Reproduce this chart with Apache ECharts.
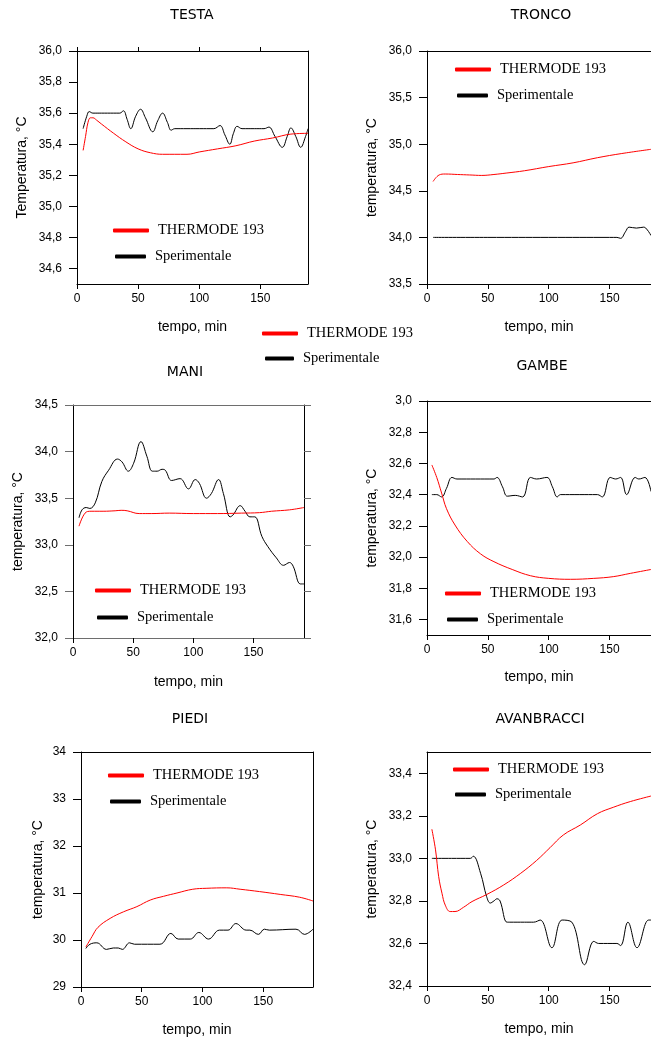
<!DOCTYPE html>
<html>
<head>
<meta charset="utf-8">
<script src="https://cdn.jsdelivr.net/npm/echarts@6/dist/echarts.min.js"></script>
<style>
html,body{margin:0;padding:0;background:#fff;}
#c{width:651px;height:1041px;}
</style>
</head>
<body>
<div id="c"></div>
<script>
// ---------- DATA ----------
const titles = ['TESTA', 'TRONCO', 'MANI', 'GAMBE', 'PIEDI', 'AVANBRACCI'];
const yNames = ['Temperatura, °C', 'temperatura, °C', 'temperatura, °C', 'temperatura, °C', 'temperatura, °C', 'temperatura, °C'];
const xName = 'tempo, min';
const modelName = 'THERMODE 193';
const expName = 'Sperimentale';
const xTicks = [0, 50, 100, 150];

const testaTicks = [34.6, 34.8, 35.0, 35.2, 35.4, 35.6, 35.8, 36.0];
const troncoTicks = [33.5, 34.0, 34.5, 35.0, 35.5, 36.0];
const maniTicks = [32.0, 32.5, 33.0, 33.5, 34.0, 34.5];
const gambeTicks = [31.6, 31.8, 32.0, 32.2, 32.4, 32.6, 32.8, 33.0];
const gambeTickLabels = ['31,6', '31,8', '32,0', '32,2', '32,4', '32,6', '32,8', '3,0'];
const piediTicks = [29, 30, 31, 32, 33, 34];
const avanTicks = [32.4, 32.6, 32.8, 33.0, 33.2, 33.4];

const testaModel = [[5,35.36],[7,35.45],[9,35.54],[11,35.57],[13,35.57],[16,35.555],[20,35.53],[30,35.47],[40,35.415],[50,35.37],[60,35.345],[70,35.335],[90,35.335],[100,35.35],[115,35.37],[130,35.39],[145,35.42],[160,35.44],[175,35.465],[189,35.47]];
const testaExp = [[5,35.50],[8,35.58],[10,35.61],[13,35.60],[20,35.60],[30,35.60],[35,35.60],[38,35.615],[41,35.56],[44,35.50],[48,35.58],[52,35.625],[56,35.57],[62,35.48],[66,35.55],[70,35.60],[74,35.54],[77,35.49],[80,35.50],[90,35.50],[100,35.50],[112,35.50],[117,35.52],[121,35.46],[125,35.40],[128,35.47],[131,35.515],[135,35.50],[145,35.50],[153,35.50],[157,35.51],[162,35.45],[168,35.38],[172,35.45],[175,35.505],[179,35.45],[183,35.38],[187,35.45],[189,35.50]];

const troncoModel = [[5,34.60],[10,34.67],[15,34.68],[25,34.675],[35,34.67],[45,34.665],[55,34.675],[65,34.69],[80,34.715],[100,34.76],[120,34.80],[140,34.855],[160,34.90],[184,34.945]];
const troncoExp = [[5,34.0],[50,34.0],[100,34.0],[150,34.0],[156,34.0],[159,33.99],[163,34.06],[166,34.11],[172,34.10],[178,34.11],[181,34.08],[184,34.02]];

const maniModel = [[5,33.20],[10,33.34],[15,33.36],[25,33.36],[35,33.365],[40,33.37],[45,33.365],[55,33.335],[65,33.335],[80,33.34],[100,33.335],[120,33.335],[140,33.34],[155,33.345],[165,33.36],[180,33.375],[192,33.40]];
const maniExp = [[5,33.29],[7.5,33.375],[11,33.40],[14,33.39],[18.5,33.45],[24,33.68],[29.6,33.80],[37,33.92],[40.7,33.89],[46,33.79],[50.4,33.875],[56.5,34.107],[61.4,33.95],[66,33.79],[70,33.79],[74,33.81],[76.7,33.80],[82,33.69],[89,33.71],[96,33.60],[101.6,33.70],[105,33.66],[111,33.50],[115,33.55],[121,33.70],[125,33.55],[130.6,33.30],[133,33.32],[139,33.42],[143,33.36],[147,33.30],[151,33.30],[157,33.09],[162,32.98],[169,32.86],[175,32.78],[180,32.81],[183,32.77],[189,32.58],[192,32.58]];

const gambeModel = [[4,32.59],[8,32.51],[12,32.41],[16,32.31],[23,32.205],[33,32.10],[44,32.02],[55,31.97],[70,31.92],[85,31.88],[100,31.863],[118,31.857],[137,31.863],[153,31.874],[167,31.895],[184,31.92]];
const gambeExp = [[4,32.40],[8,32.40],[12,32.385],[16,32.44],[20.5,32.51],[24.6,32.50],[40,32.50],[55,32.50],[57.5,32.51],[62,32.45],[66,32.39],[72.5,32.395],[78.5,32.385],[85,32.51],[90,32.50],[98.5,32.51],[103,32.45],[107,32.385],[109.5,32.40],[125,32.40],[140,32.40],[144,32.385],[150.5,32.51],[155,32.50],[159,32.51],[164,32.40],[171,32.51],[174,32.50],[179,32.51],[184,32.42]];

const piediModel = [[4,29.85],[9,30.07],[14,30.27],[24,30.46],[35,30.60],[46,30.71],[57,30.85],[68,30.93],[79,31.00],[92,31.08],[103,31.10],[120,31.11],[131,31.08],[147,31.03],[164,30.97],[180,30.91],[191,30.83]];
const piediExp = [[4,29.82],[7.4,29.91],[13,29.94],[21,29.80],[26.6,29.83],[30.7,29.83],[34,29.80],[40,29.94],[44,29.91],[65,29.91],[74,30.14],[80,30.02],[90,30.02],[97,30.16],[105,30.02],[114,30.21],[121,30.21],[127.5,30.35],[136,30.21],[139,30.21],[146,30.12],[151,30.23],[155,30.21],[177,30.23],[184,30.12],[191,30.23]];

const avanModel = [[4,33.137],[7,33.04],[9.6,32.914],[12.3,32.836],[15,32.78],[19,32.75],[23,32.75],[30,32.77],[37,32.797],[49,32.83],[63,32.875],[77,32.93],[90,32.99],[101,33.05],[112,33.11],[126,33.157],[140,33.21],[153,33.24],[167,33.267],[184,33.293]];
const avanExp = [[4,33.0],[20,33.0],[35.6,33.0],[38,33.01],[44,32.93],[49,32.82],[52,32.79],[55,32.80],[57.5,32.81],[60,32.80],[65.7,32.70],[68,32.70],[80,32.70],[87.6,32.70],[93,32.71],[102.6,32.58],[111,32.71],[119,32.70],[129.5,32.50],[137,32.61],[141,32.60],[156,32.60],[159,32.59],[165,32.70],[172.5,32.58],[182,32.71],[184,32.71]];

// ---------- LAYOUT ----------
const SANS = 'Liberation Sans, Arial, sans-serif';
const SERIF = 'Liberation Serif, Times New Roman, serif';
const panels = [
  {grid:{left:77,top:51,width:231,height:233}, xmax:189, ymin:34.5, ymax:36.0, ticks:testaTicks, model:testaModel, exp:testaExp, box:true, topTicks:true, title:[192,8], nameGap:48, xGap:36, leg:[113,230,115,256]},
  {grid:{left:427,top:51,width:224,height:233}, xmax:184, ymin:33.5, ymax:36.0, ticks:troncoTicks, model:troncoModel, exp:troncoExp, box:false, title:[541,8], nameGap:48, xGap:36, leg:[455,69,457,95]},
  {grid:{left:73,top:405,width:231,height:233}, xmax:192, ymin:32.0, ymax:34.5, ticks:maniTicks, model:maniModel, exp:maniExp, box:true, rightTicks:true, gray:true, title:[185,365], nameGap:48, xGap:37, leg:[95,590,97,617]},
  {grid:{left:427,top:401,width:224,height:234}, xmax:184, ymin:31.5, ymax:33.0, ticks:gambeTicks, labels:gambeTickLabels, model:gambeModel, exp:gambeExp, box:false, title:[542,359], nameGap:48, xGap:35, leg:[445,593,447,619]},
  {grid:{left:81,top:752,width:232,height:235}, xmax:191, ymin:29, ymax:34, ticks:piediTicks, integer:true, model:piediModel, exp:piediExp, box:true, title:[190,712], nameGap:36, xGap:36, leg:[108,775,110,801]},
  {grid:{left:427,top:752,width:224,height:234}, xmax:184, ymin:32.4, ymax:33.5, ticks:avanTicks, model:avanModel, exp:avanExp, box:false, title:[540,712], nameGap:48, xGap:36, leg:[453,769,455,794]}
];

const RED = '#ff0000';
const BLACK = '#000000';

const option = {
  animation:false,
  backgroundColor:'#fff',
  title:[], grid:[], xAxis:[], yAxis:[], series:[], legend:[]
};

function fmt(p){
  return function(v){
    if (p.labels){ const i = p.ticks.findIndex(t=>Math.abs(t-v)<1e-6); if(i>=0) return p.labels[i]; }
    if (p.integer) return String(Math.round(v));
    return v.toFixed(1).replace('.', ',');
  };
}

function addLegend(name, color, left, cy, width){
  option.legend.push({
    data:[{name:name, itemStyle:{color:color}}],
    orient:'vertical', left:left, top:cy-7, padding:0,
    icon:'roundRect', itemWidth:width, itemHeight:4,
    selectedMode:false,
    textStyle:{fontFamily:SERIF, fontSize:14.5, color:'#000', padding:[0,0,0,4]}
  });
}

panels.forEach((p, i) => {
  const lineCol = p.gray ? '#6e6e6e' : '#000';
  option.grid.push(Object.assign({containLabel:false}, p.grid));
  option.title.push({
    text:titles[i], left:p.title[0], top:p.title[1], textAlign:'center', padding:0,
    textStyle:{fontFamily:'DejaVu Sans, sans-serif', fontSize:14, fontWeight:'normal', color:'#000'}
  });
  // bottom x axis
  option.xAxis.push({
    type:'value', gridIndex:i, min:0, max:p.xmax, position:'bottom',
    axisLine:{show:true, onZero:false, lineStyle:{color:lineCol, width:1}},
    axisTick:{show:true, inside:false, length:5, customValues:xTicks, lineStyle:{color:'#000'}},
    axisLabel:{show:true, customValues:xTicks, margin:9, fontFamily:SANS, fontSize:12, color:'#000'},
    splitLine:{show:false},
    name:xName, nameLocation:'middle', nameGap:p.xGap,
    nameTextStyle:{fontFamily:SANS, fontSize:14, color:'#000'}
  });
  // top x axis (frame)
  option.xAxis.push({
    type:'value', gridIndex:i, min:0, max:p.xmax, position:'top',
    axisLine:{show:true, onZero:false, lineStyle:{color:lineCol, width:1}},
    axisTick:{show:!!p.topTicks, inside:false, length:4, customValues:xTicks, lineStyle:{color:'#000'}},
    axisLabel:{show:false}, splitLine:{show:false}
  });
  // left y axis
  option.yAxis.push({
    type:'value', gridIndex:i, min:p.ymin, max:p.ymax, position:'left',
    axisLine:{show:true, onZero:false, lineStyle:{color:'#000', width:1}},
    axisTick:{show:true, inside:false, length:8, customValues:p.ticks, lineStyle:{color:lineCol}},
    axisLabel:{show:true, customValues:p.ticks, formatter:fmt(p), margin:15, fontFamily:SANS, fontSize:12, color:'#000'},
    splitLine:{show:false},
    name:yNames[i], nameLocation:'middle', nameGap:p.nameGap, nameRotate:90,
    nameTextStyle:{fontFamily:SANS, fontSize:14, color:'#000'}
  });
  // right y axis (frame)
  option.yAxis.push({
    type:'value', gridIndex:i, min:p.ymin, max:p.ymax, position:'right',
    axisLine:{show:p.box, onZero:false, lineStyle:{color:'#000', width:1}},
    axisTick:{show:!!p.rightTicks, inside:false, length:7, customValues:p.ticks, lineStyle:{color:lineCol}},
    axisLabel:{show:false}, splitLine:{show:false}
  });
  option.series.push({
    type:'line', name:modelName, xAxisIndex:2*i, yAxisIndex:2*i, data:p.model,
    smooth:0.4, showSymbol:false, symbol:'none', clip:true,
    lineStyle:{color:RED, width:1}, itemStyle:{color:RED}, z:3
  });
  option.series.push({
    type:'line', name:expName, xAxisIndex:2*i, yAxisIndex:2*i, data:p.exp,
    smooth:0.4, showSymbol:false, symbol:'none', clip:true,
    lineStyle:{color:BLACK, width:1}, itemStyle:{color:BLACK}, z:2
  });
  addLegend(modelName, RED, p.leg[0], p.leg[1], 36);
  addLegend(expName, BLACK, p.leg[2], p.leg[3], 31);
});
// stray legend between panels
addLegend(modelName, RED, 262, 333, 36);
addLegend(expName, BLACK, 265, 358, 29);

const chart = echarts.init(document.getElementById('c'), null, {renderer:'canvas', width:651, height:1041});
chart.setOption(option);
</script>
</body>
</html>
